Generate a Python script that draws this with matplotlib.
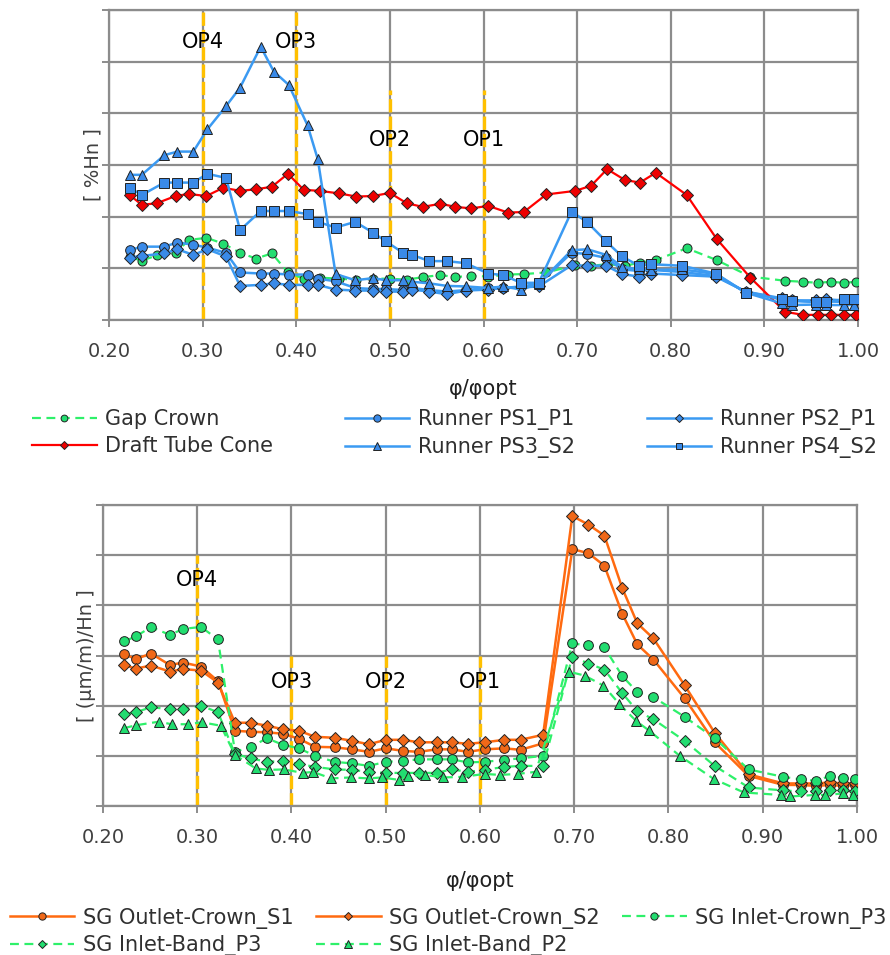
import numpy as np
import matplotlib
matplotlib.use("Agg")
import matplotlib.pyplot as plt
from matplotlib.ticker import MultipleLocator

plt.rcParams['font.family'] = ['DejaVu Sans']

# operating points (phi/phi_opt) - two slightly different measuring grids
phi_a = [0.222, 0.235, 0.251, 0.271, 0.285, 0.304, 0.322, 0.340, 0.357, 0.374,
         0.391, 0.408, 0.425, 0.446, 0.464, 0.482, 0.500, 0.518, 0.535, 0.554,
         0.570, 0.587, 0.605, 0.626, 0.643, 0.667, 0.698, 0.715, 0.732, 0.751,
         0.767, 0.784, 0.817, 0.849, 0.885, 0.922, 0.941, 0.957, 0.971, 0.985, 0.998]
phi_b = [0.222, 0.235, 0.259, 0.273, 0.290, 0.305, 0.325, 0.340, 0.362, 0.376,
         0.392, 0.412, 0.423, 0.442, 0.463, 0.482, 0.496, 0.514, 0.524, 0.542,
         0.561, 0.581, 0.605, 0.621, 0.640, 0.659, 0.694, 0.711, 0.731, 0.748,
         0.766, 0.779, 0.812, 0.848, 0.880, 0.919, 0.929, 0.955, 0.966, 0.985, 0.996]

# pressure pulsations [%Hn]
gap_crown = [1.22, 1.15, 1.25, 1.29, 1.55, 1.59, 1.48, 1.30, 1.19, 1.29,
             0.92, 0.80, 0.82, 0.80, 0.78, 0.80, 0.80, 0.78, 0.83, 0.87,
             0.83, 0.86, 0.84, 0.88, 0.89, 0.92, 1.06, 1.05, 1.08, 1.05,
             1.11, 1.16, 1.39, 1.16, 0.84, 0.76, 0.74, 0.72, 0.74, 0.72, 0.74]
draft_tube = [2.42, 2.23, 2.26, 2.40, 2.44, 2.40, 2.56, 2.50, 2.53, 2.58,
              2.83, 2.52, 2.50, 2.45, 2.39, 2.40, 2.46, 2.26, 2.19, 2.25,
              2.19, 2.16, 2.21, 2.08, 2.09, 2.43, 2.50, 2.60, 2.92, 2.71,
              2.66, 2.85, 2.42, 1.57, 0.82, 0.16, 0.10, 0.10, 0.10, 0.10, 0.10]
runner_ps1 = [1.35, 1.42, 1.42, 1.50, 1.46, 1.40, 1.30, 0.92, 0.90, 0.90,
              0.88, 0.88, 0.80, 0.75, 0.62, 0.60, 0.60, 0.58, 0.62, 0.58,
              0.55, 0.58, 0.62, 0.62, 0.65, 0.70, 1.30, 1.28, 1.20, 0.98,
              0.95, 0.97, 0.93, 0.85, 0.55, 0.40, 0.38, 0.35, 0.36, 0.35, 0.36]
runner_ps2 = [1.21, 1.24, 1.29, 1.37, 1.26, 1.37, 1.23, 0.66, 0.68, 0.71,
              0.68, 0.68, 0.68, 0.59, 0.57, 0.57, 0.55, 0.55, 0.59, 0.55,
              0.50, 0.57, 0.59, 0.62, 0.63, 0.65, 1.06, 1.05, 1.05, 0.89,
              0.84, 0.90, 0.87, 0.84, 0.55, 0.42, 0.38, 0.38, 0.40, 0.38, 0.36]
runner_ps3 = [2.81, 2.81, 3.19, 3.26, 3.26, 3.69, 4.14, 4.50, 5.29, 4.81,
              4.55, 3.77, 3.11, 0.89, 0.77, 0.81, 0.77, 0.77, 0.74, 0.71,
              0.66, 0.65, 0.62, 0.65, 0.59, 0.70, 1.35, 1.37, 1.26, 1.03,
              0.98, 0.97, 0.98, 0.89, 0.53, 0.32, 0.29, 0.30, 0.29, 0.29, 0.29]
runner_ps4 = [2.56, 2.42, 2.66, 2.66, 2.66, 2.83, 2.75, 1.74, 2.11, 2.11,
              2.11, 2.05, 1.90, 1.79, 1.90, 1.69, 1.52, 1.30, 1.26, 1.14,
              1.14, 1.10, 0.90, 0.87, 0.72, 0.72, 2.10, 1.89, 1.52, 1.23,
              1.05, 1.08, 1.05, 0.90, 0.53, 0.40, 0.37, 0.35, 0.35, 0.40, 0.40]

# strain gauges [(um/m)/Hn]
sg_out_s1 = [3.03, 2.93, 3.04, 2.81, 2.86, 2.78, 2.49, 1.50, 1.48, 1.47,
             1.44, 1.34, 1.18, 1.17, 1.13, 1.08, 1.15, 1.10, 1.08, 1.13,
             1.13, 1.08, 1.13, 1.15, 1.12, 1.25, 5.12, 5.04, 4.79, 3.83,
             3.22, 2.92, 2.15, 1.27, 0.60, 0.42, 0.42, 0.40, 0.42, 0.40, 0.42]
sg_out_s2 = [2.81, 2.74, 2.80, 2.68, 2.73, 2.70, 2.46, 1.66, 1.66, 1.60,
             1.53, 1.50, 1.38, 1.36, 1.30, 1.23, 1.32, 1.32, 1.27, 1.27,
             1.27, 1.24, 1.27, 1.32, 1.32, 1.42, 5.78, 5.61, 5.39, 4.34,
             3.64, 3.34, 2.41, 1.46, 0.63, 0.45, 0.45, 0.45, 0.47, 0.45, 0.45]
sg_in_crown_p3 = [3.28, 3.38, 3.57, 3.41, 3.53, 3.57, 3.32, 1.08, 1.18, 1.35,
                  1.22, 1.15, 1.00, 0.88, 0.85, 0.80, 0.88, 0.90, 0.93, 0.93,
                  0.93, 0.87, 0.88, 0.92, 0.95, 1.00, 3.24, 3.20, 3.16, 2.59,
                  2.27, 2.17, 1.78, 1.35, 0.73, 0.58, 0.53, 0.50, 0.60, 0.56, 0.53]
sg_in_band_p3 = [1.83, 1.87, 1.97, 1.93, 1.93, 2.00, 1.87, 1.04, 0.95, 0.88,
                 0.90, 0.84, 0.78, 0.73, 0.72, 0.68, 0.66, 0.66, 0.66, 0.66,
                 0.73, 0.68, 0.72, 0.78, 0.80, 0.80, 2.98, 2.84, 2.72, 2.25,
                 1.89, 1.73, 1.30, 0.80, 0.37, 0.31, 0.29, 0.30, 0.32, 0.31, 0.29]
sg_in_band_p2 = [1.55, 1.61, 1.68, 1.63, 1.63, 1.67, 1.60, 1.02, 0.75, 0.72,
                 0.73, 0.66, 0.68, 0.55, 0.57, 0.55, 0.57, 0.52, 0.60, 0.62,
                 0.57, 0.58, 0.64, 0.62, 0.64, 0.68, 2.68, 2.60, 2.40, 2.03,
                 1.69, 1.51, 1.00, 0.54, 0.27, 0.22, 0.19, 0.22, 0.22, 0.25, 0.22]

# OP markers: (name, phi, line start, label y) per chart
op_top = [("OP4", 0.30, 6.0, 5.38), ("OP3", 0.40, 6.0, 5.38),
          ("OP2", 0.50, 4.45, 3.48), ("OP1", 0.60, 4.45, 3.48)]
op_bot = [("OP4", 0.30, 5.0, 4.5), ("OP3", 0.40, 3.0, 2.47),
          ("OP2", 0.50, 3.0, 2.47), ("OP1", 0.60, 3.0, 2.47)]

GREEN = '#2EF06A'
GREEN_M = '#22DD70'
BLUE = '#3B9AF2'
BLUE_M = '#3A8AE8'
RED = '#FF0000'
ORANGE = '#FF6A10'
EDGE = '#222222'
GRID = '#8C8C8C'


def style_axes(ax, ylabel):
    ax.set_xlim(0.2, 1.0)
    ax.set_ylim(0, 6)
    ax.yaxis.set_major_locator(MultipleLocator(1))
    ax.set_xticks(np.arange(0.2, 1.001, 0.1))
    ax.set_xticklabels(["%.2f" % v for v in np.arange(0.2, 1.001, 0.1)])
    ax.set_yticklabels([])
    ax.grid(True, color=GRID, linewidth=1.6, zorder=0)
    for s in ax.spines.values():
        s.set_color(GRID)
        s.set_linewidth(1.6)
    ax.tick_params(axis='both', direction='out', length=5, width=1.4,
                   color=GRID, labelsize=14, labelcolor='#404040')
    ax.tick_params(axis='x', pad=11)
    ax.set_axisbelow(True)
    ax.set_ylabel(ylabel, fontsize=14, color='#404040')
    ax.yaxis.set_label_coords(-0.009, 0.5)
    ax.set_xlabel("φ/φopt", fontsize=15, color='#202020', va='center')


def draw_ops(ax, ops):
    for name, x, top, ly in ops:
        ax.plot([x, x], [0, top], color='#FFC000', linewidth=2.4,
                dashes=(4, 1.2), zorder=1.5)
        ax.text(x, ly, name, ha='center', va='center', fontsize=15,
                color='black', zorder=6)


fig = plt.figure(figsize=(8.9, 9.55), dpi=100)

# ---------------- top chart ----------------
ax1 = fig.add_axes([0.1225, 0.6649, 0.8416, 0.3246])
style_axes(ax1, "[ %Hn ]")
ax1.xaxis.set_label_coords(0.5, -0.222)
draw_ops(ax1, op_top)

mk = dict(markeredgecolor=EDGE, markeredgewidth=0.7, zorder=3)
l_gc, = ax1.plot(phi_a, gap_crown, color=GREEN, lw=1.6, dashes=(4, 2.5), marker='o',
                 ms=6.5, markerfacecolor=GREEN_M, label="Gap Crown", **mk)
l_p1, = ax1.plot(phi_b, runner_ps1, color=BLUE, lw=1.8, marker='o', ms=7,
                 markerfacecolor=BLUE_M, label="Runner PS1_P1", **mk)
l_p2, = ax1.plot(phi_b, runner_ps2, color=BLUE, lw=1.8, marker='D', ms=6,
                 markerfacecolor=BLUE_M, label="Runner PS2_P1", **mk)
l_dt, = ax1.plot(phi_a, draft_tube, color=RED, lw=1.6, marker='D', ms=6,
                 markerfacecolor='#EE0000', label="Draft Tube Cone", **mk)
l_p3, = ax1.plot(phi_b, runner_ps3, color=BLUE, lw=1.8, marker='^', ms=7.5,
                 markerfacecolor=BLUE_M, label="Runner PS3_S2", **mk)
l_p4, = ax1.plot(phi_b, runner_ps4, color=BLUE, lw=1.8, marker='s', ms=6.5,
                 markerfacecolor=BLUE_M, label="Runner PS4_S2", **mk)

# legend handles ordered column-wise so rows read like the original
leg1 = fig.legend([l_gc, l_dt, l_p1, l_p3, l_p2, l_p4],
                  ["Gap Crown", "Draft Tube Cone", "Runner PS1_P1",
                   "Runner PS3_S2", "Runner PS2_P1", "Runner PS4_S2"],
                  ncol=3, loc='upper left', mode='expand',
                  bbox_to_anchor=(0.036, 0.5717, 0.949, 0),
                  frameon=False, fontsize=15, handlelength=3.1,
                  handletextpad=0.4, labelspacing=0.33,
                  markerscale=0.75, borderaxespad=0, borderpad=0,
                  labelcolor='#303030')

# ---------------- bottom chart ----------------
ax2 = fig.add_axes([0.1157, 0.1560, 0.8472, 0.3152])
style_axes(ax2, "[ (μm/m)/Hn ]")
ax2.xaxis.set_label_coords(0.5, -0.25)
draw_ops(ax2, op_bot)

l_s1, = ax2.plot(phi_a, sg_out_s1, color=ORANGE, lw=1.8, marker='o', ms=7,
                 markerfacecolor='#F06818', label="SG Outlet-Crown_S1", **mk)
l_s2, = ax2.plot(phi_a, sg_out_s2, color=ORANGE, lw=1.8, marker='D', ms=6,
                 markerfacecolor='#F06818', label="SG Outlet-Crown_S2", **mk)
l_ic, = ax2.plot(phi_a, sg_in_crown_p3, color=GREEN, lw=1.6, dashes=(4, 2.5),
                 marker='o', ms=7, markerfacecolor=GREEN_M,
                 label="SG Inlet-Crown_P3", **mk)
l_b3, = ax2.plot(phi_a, sg_in_band_p3, color=GREEN, lw=1.6, dashes=(4, 2.5),
                 marker='D', ms=6, markerfacecolor=GREEN_M,
                 label="SG Inlet-Band_P3", **mk)
l_b2, = ax2.plot(phi_b, sg_in_band_p2, color=GREEN, lw=1.6, dashes=(4, 2.5),
                 marker='^', ms=7, markerfacecolor=GREEN_M,
                 label="SG Inlet-Band_P2", **mk)

leg2 = fig.legend([l_s1, l_b3, l_s2, l_b2, l_ic],
                  ["SG Outlet-Crown_S1", "SG Inlet-Band_P3", "SG Outlet-Crown_S2",
                   "SG Inlet-Band_P2", "SG Inlet-Crown_P3"],
                  ncol=3, loc='upper left', mode='expand',
                  bbox_to_anchor=(0.011, 0.0497, 0.985, 0),
                  frameon=False, fontsize=15, handlelength=3.1,
                  handletextpad=0.4, labelspacing=0.33,
                  markerscale=0.75, borderaxespad=0, borderpad=0,
                  labelcolor='#303030')

fig.savefig("out.png", dpi=100)
